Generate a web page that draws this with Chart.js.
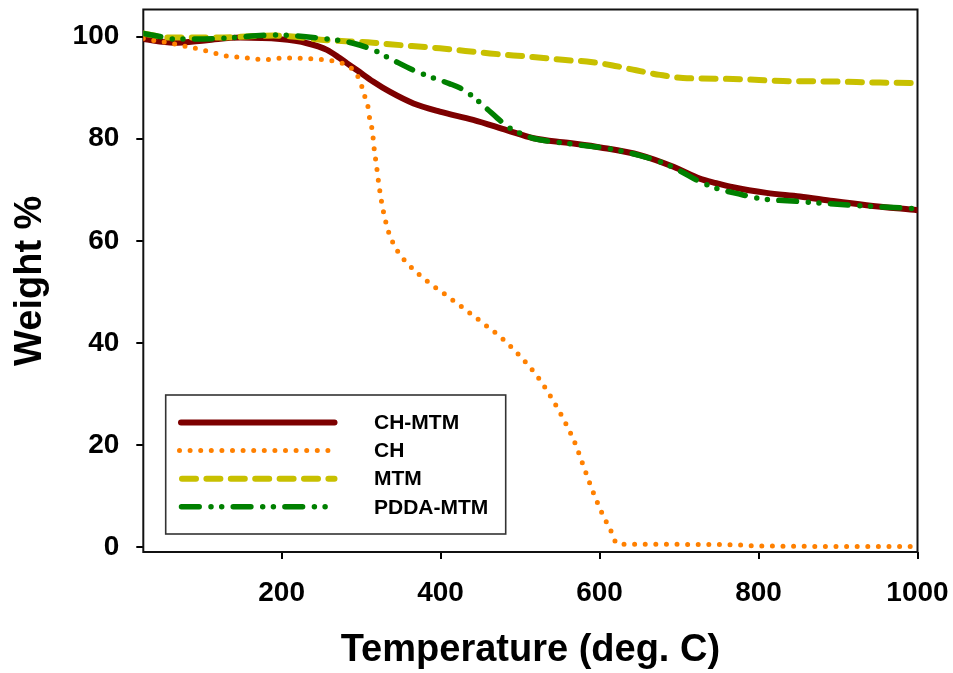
<!DOCTYPE html>
<html>
<head>
<meta charset="utf-8">
<script src="https://cdn.jsdelivr.net/npm/chart.js@4.4.1/dist/chart.umd.min.js"></script>
<style>
  html, body { margin: 0; padding: 0; background: #fff; }
  canvas { display: block; }
</style>
</head>
<body>
<canvas id="tga" width="953" height="673"></canvas>
<script>
// Thermogravimetric curves: remaining weight (%) against temperature (deg. C)
const seriesNames = ['CH-MTM', 'CH', 'MTM', 'PDDA-MTM'];

const chMtmTemp   = [26, 64, 106, 148, 198, 232, 257, 273, 282, 295, 315, 336, 366, 399, 441, 483, 517, 560, 601, 651, 693, 726, 747, 768, 810, 852, 894, 936, 1000];
const chMtmWeight = [99.5, 98.8, 99.3, 99.8, 99.5, 98.7, 97.4, 95.8, 94.8, 93.4, 91.2, 89.2, 86.9, 85.3, 83.7, 81.7, 80.1, 79.2, 78.3, 76.8, 74.5, 72.2, 71.3, 70.5, 69.4, 68.7, 67.8, 67.0, 66.0];

const chTemp   = [26, 49, 62, 72, 83, 97, 110, 131, 152, 166, 179, 204, 232, 257, 269, 282, 290, 295, 301, 305, 309, 311, 314, 317, 319, 322.5, 327, 333.5, 338.5, 346, 356.5, 380, 405, 430, 455, 479, 502, 524, 541, 557, 570, 580, 590, 602, 615, 622, 640, 760, 800, 1000];
const chWeight = [99.6, 99.0, 98.7, 98.3, 98.0, 97.5, 97.0, 96.2, 95.9, 95.6, 95.5, 95.8, 95.7, 95.4, 95.1, 94.4, 93.5, 92.5, 90.2, 88.1, 86.0, 83.7, 81.7, 77.3, 75.2, 70.9, 66.6, 62.3, 60.2, 58.0, 55.9, 52.5, 49.6, 46.7, 43.7, 40.7, 37.1, 33.0, 28.9, 24.4, 20.1, 15.8, 11.6, 7.1, 3.0, 0.7, 0.6, 0.55, 0.3, 0.15];

const mtmTemp   = [26, 60, 120, 190, 257, 315, 336, 399, 462, 516, 557, 584, 615, 646, 676, 705, 768, 831, 894, 953, 1000];
const mtmWeight = [100.6, 99.8, 99.8, 100.2, 99.3, 98.8, 98.5, 97.7, 96.7, 96.0, 95.4, 95.1, 94.4, 93.4, 92.5, 91.9, 91.7, 91.3, 91.2, 91.0, 90.9];

const pddaTemp   = [26, 47, 64, 120, 190, 252, 290, 315, 340, 366, 387, 411, 425, 441, 458, 471, 484, 500, 516, 559, 600, 618, 651, 676, 700, 726, 747, 775, 802, 852, 915, 1000];
const pddaWeight = [100.6, 100.0, 99.5, 99.6, 100.3, 99.6, 98.7, 97.4, 95.4, 93.4, 92.1, 90.8, 89.9, 88.2, 85.9, 84.1, 82.4, 81.1, 80.1, 79.1, 78.3, 77.9, 76.7, 75.5, 73.8, 71.6, 70.3, 69.2, 68.3, 67.7, 67.0, 66.3];

const xTicks = [200, 400, 600, 800, 1000];
const yTicks = [0, 20, 40, 60, 80, 100];

const FONT = '"Liberation Sans", Arial, sans-serif';

function toPoints(xs, ys) {
  return xs.map((x, i) => ({ x: x, y: ys[i] }));
}

// keep the plot box where the layout puts it: no extra room for edge labels
function fixScaleBox(size) {
  return s => {
    if (s.isHorizontal()) { s.height = size; } else { s.width = size; }
    s.paddingTop = 0; s.paddingBottom = 0; s.paddingLeft = 0; s.paddingRight = 0;
  };
}

// plot frame, drawn beneath the curves
const plotFrame = {
  id: 'plotFrame',
  beforeDatasetsDraw(chart) {
    const { ctx, chartArea: a } = chart;
    ctx.save();
    ctx.strokeStyle = '#111';
    ctx.lineWidth = 2;
    ctx.strokeRect(a.left, a.top, a.right - a.left, a.bottom - a.top);
    ctx.restore();
  }
};

// boxed key in the lower-left of the plot
const boxedKey = {
  id: 'boxedKey',
  afterDraw(chart, args, o) {
    const ctx = chart.ctx;
    ctx.save();
    ctx.fillStyle = '#fff';
    ctx.fillRect(o.left, o.top, o.width, o.height);
    ctx.strokeStyle = '#333';
    ctx.lineWidth = 1.6;
    ctx.strokeRect(o.left, o.top, o.width, o.height);
    chart.data.datasets.forEach((ds, i) => {
      const y = o.top + o.firstRow + i * o.rowGap;
      const span = o.samples[i];
      ctx.beginPath();
      ctx.setLineDash(ds.borderDash || []);
      ctx.lineCap = 'round';
      ctx.lineJoin = 'round';
      ctx.lineWidth = ds.borderWidth;
      ctx.strokeStyle = ds.borderColor;
      ctx.moveTo(span[0], y);
      ctx.lineTo(span[1], y);
      ctx.stroke();
      ctx.setLineDash([]);
      ctx.fillStyle = '#000';
      ctx.font = 'bold 21px ' + FONT;
      ctx.textBaseline = 'middle';
      ctx.textAlign = 'left';
      ctx.fillText(ds.label, o.textX, y + 1);
    });
    ctx.restore();
  }
};

const lineStyle = {
  pointRadius: 0,
  pointHoverRadius: 0,
  fill: false,
  cubicInterpolationMode: 'monotone',
  borderCapStyle: 'round',
  borderJoinStyle: 'round'
};

new Chart(document.getElementById('tga'), {
  type: 'line',
  data: {
    datasets: [
      Object.assign({ label: seriesNames[0], data: toPoints(chMtmTemp, chMtmWeight),
        borderColor: '#7d0000', borderWidth: 6, borderDash: [], order: 4 }, lineStyle),
      Object.assign({ label: seriesNames[1], data: toPoints(chTemp, chWeight),
        borderColor: '#ff8000', borderWidth: 5, borderDash: [0, 10.6], order: 2 }, lineStyle),
      Object.assign({ label: seriesNames[2], data: toPoints(mtmTemp, mtmWeight),
        borderColor: '#c8c000', borderWidth: 6, borderDash: [14, 10.4], order: 3 }, lineStyle),
      Object.assign({ label: seriesNames[3], data: toPoints(pddaTemp, pddaWeight),
        borderColor: '#008000', borderWidth: 5.5, borderDash: [17.7, 11.8, 0, 10.7, 0, 11.5], order: 1 }, lineStyle)
    ]
  },
  options: {
    responsive: false,
    animation: false,
    devicePixelRatio: 1,
    layout: { padding: { top: 9.5, right: 35.5, left: 0, bottom: 0 } },
    plugins: {
      legend: { display: false },
      tooltip: { enabled: false },
      boxedKey: {
        left: 165.7, top: 395, width: 340, height: 139,
        firstRow: 27.5, rowGap: 28.1, textX: 374,
        samples: [[181, 334.5], [179.5, 337], [182, 334.5], [181.5, 327]]
      }
    },
    scales: {
      x: {
        type: 'linear',
        min: 26,
        max: 1000,
        afterBuildTicks: s => { s.ticks = xTicks.map(v => ({ value: v })); },
        afterFit: fixScaleBox(121),
        grid: { drawOnChartArea: false, drawTicks: true, tickLength: 7, color: '#000', lineWidth: 2 },
        border: { display: false },
        ticks: { color: '#000', font: { family: FONT, size: 28, weight: 'bold' }, padding: 17,
          maxRotation: 0, autoSkip: false, callback: v => String(v) },
        title: { display: true, text: 'Temperature (deg. C)', color: '#000',
          font: { family: FONT, size: 38, weight: 'bold', lineHeight: 1.2 }, padding: { top: 0, bottom: 0 } }
      },
      y: {
        type: 'linear',
        min: -0.9,
        max: 105.3,
        afterBuildTicks: s => { s.ticks = yTicks.map(v => ({ value: v })); },
        afterFit: fixScaleBox(143.3),
        grid: { drawOnChartArea: false, drawTicks: true, tickLength: 7, color: '#000', lineWidth: 2 },
        border: { display: false },
        ticks: { color: '#000', font: { family: FONT, size: 28, weight: 'bold' }, padding: 17,
          callback: v => String(v) },
        title: { display: true, text: 'Weight %', color: '#000',
          font: { family: FONT, size: 38, weight: 'bold', lineHeight: 1.2 }, padding: { top: 8, bottom: 0 } }
      }
    }
  },
  plugins: [plotFrame, boxedKey]
});
</script>
</body>
</html>
